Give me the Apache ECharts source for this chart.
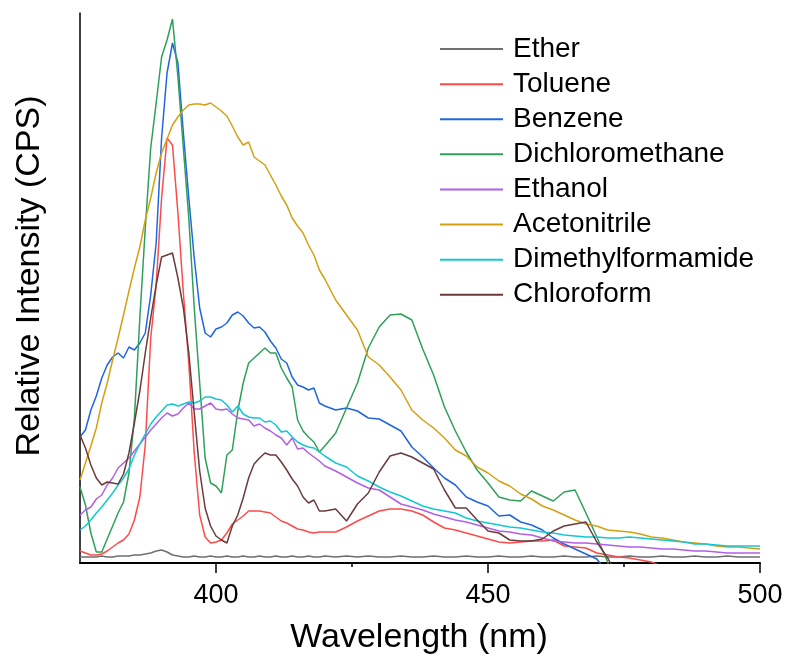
<!DOCTYPE html>
<html>
<head>
<meta charset="utf-8">
<script src="https://cdn.jsdelivr.net/npm/echarts@6/dist/echarts.min.js"></script>
<style>
html,body{margin:0;padding:0;background:#fff;}
#chart{width:786px;height:660px;}
</style>
</head>
<body>
<div id="chart"></div>
<script>
const wavelength = [
375,376,377,378,379,380,381,382,383,384,
385,386,387,388,389,390,391,392,393,394,
395,396,397,398,399,400,401,402,403,404,
405,406,407,408,409,410,411,412,413,414,
415,416,417,418,419,420,
422,424,426,428,430,432,434,436,438,440,
442,444,446,448,450,452,454,456,458,460,
462,464,466,468,470,472,474,476,478,480,
482,484,486,488,490,492,494,496,498,500
];
const ether = [
6,6,6,6,7,6,6,7,7,7,
8,8,9,10,12,13,11,8,7,6,
6,7,6,6,7,6,6,7,6,6,
7,6,6,7,6,6,7,6,6,7,
6,6,7,6,6,7,
6,7,6,7,6,6,7,6,6,7,
6,6,7,6,6,7,6,6,7,6,
6,7,6,6,7,6,6,7,6,6,
7,6,6,7,6,6,7,6,6,6
];
const toluene = [
12,10,8,8,9,12,16,20,23,29,
43,66,118,225,278,365,425,418,350,270,
200,110,48,26,20,21,23,30,39,43,
47,52,52,52,51,50,46,42,40,37,
34,33,31,30,31,31,
31,36,42,47,52,54,54,52,48,41,
35,33,30,27,24,21,20,21,22,22,
23,17,16,15,10,8,6,5,3,1,
-3,null,null,null,null,null,null,null,null,null
];
const benzene = [
126,133,153,167,185,198,206,210,205,216,
213,220,230,268,320,425,490,520,500,430,
365,305,255,230,226,234,236,240,248,251,
247,240,235,236,231,222,215,204,200,186,
178,176,173,175,160,157,
153,155,152,145,144,138,132,116,106,95,
85,78,66,61,57,47,48,41,38,33,
25,19,14,9,4,-10,null,null,null,null,
null,null,null,null,null,null,null,null,null,null
];
const dichloromethane = [
76,58,30,11,11,24,37,50,61,90,
145,245,335,415,460,506,523,544,486,415,
345,255,180,105,80,77,70,108,113,152,
180,200,205,210,215,210,210,195,185,176,
143,132,126,121,111,117,
130,155,180,215,236,248,249,243,214,188,
156,132,111,93,80,66,63,62,72,67,
62,71,73,50,26,1,-40,null,null,null,
null,null,null,null,null,null,null,null,null,null
];
const ethanol = [
48,53,56,64,68,78,85,95,100,105,
112,119,126,133,139,145,150,147,149,155,
160,154,154,157,160,154,153,154,149,145,
144,143,137,139,135,132,128,125,118,125,
114,115,110,106,102,97,
92,86,80,75,73,66,59,56,53,49,
46,43,41,38,35,32,31,29,28,25,
22,21,20,20,19,18,17,16,16,15,
14,14,13,12,12,11,10,10,10,10
];
const acetonitrile = [
83,100,117,135,160,180,203,225,248,272,
295,316,343,365,390,410,424,438,446,453,
458,459,459,458,460,456,452,447,437,426,
418,421,406,402,398,388,378,367,358,345,
337,330,318,308,293,284,
263,248,233,206,198,186,173,153,143,135,
125,113,107,96,90,82,77,69,64,57,
53,48,43,39,37,33,32,31,29,26,
25,23,21,20,19,17,16,16,15,14
];
const dimethylformamide = [
33,37,43,50,56,63,70,78,85,94,
108,119,129,139,146,152,158,159,157,159,
161,160,162,166,166,164,163,158,151,157,
149,146,145,145,141,142,138,131,132,126,
121,118,116,115,111,107,
100,96,87,82,76,71,67,62,57,54,
52,50,45,42,40,38,36,35,33,31,
30,28,27,26,26,25,25,26,25,24,
23,22,21,19,19,18,17,17,17,17
];
const chloroform = [
128,115,98,85,78,81,80,79,89,110,
140,172,210,245,278,306,308,310,285,255,
210,150,92,55,37,27,23,20,37,48,
65,85,99,105,110,108,108,101,93,84,
77,66,60,63,52,52,
54,42,59,70,91,107,110,106,100,94,
73,55,55,43,32,30,23,22,22,24,
32,37,39,41,21,5,-15,null,null,null,
null,null,null,null,null,null,null,null,null,null
];
const seriesNames = ['Ether','Toluene','Benzene','Dichloromethane','Ethanol','Acetonitrile','Dimethylformamide','Chloroform'];
const seriesData = [ether, toluene, benzene, dichloromethane, ethanol, acetonitrile, dimethylformamide, chloroform];
const seriesColors = ['#6f6f6f','#ff4a4a','#1f66e0','#2ea05a','#b25ee6','#d4a012','#12c8d2','#6b3b3b'];
const majorTicks = [400, 450, 500];
const minorTicks = [425, 475];
const FONT = "'Liberation Sans', Arial, sans-serif";

const chart = echarts.init(document.getElementById('chart'), null, {renderer: 'canvas'});
chart.setOption({
  backgroundColor: '#ffffff',
  animation: false,
  textStyle: {fontFamily: FONT},
  grid: {left: 80, right: 26, top: 13, bottom: 97, containLabel: false},
  xAxis: [{
    type: 'value', min: 375, max: 500,
    axisLine: {lineStyle: {color: '#000', width: 2}},
    axisTick: {customValues: majorTicks, length: 10, lineStyle: {color: '#000', width: 1.5}},
    axisLabel: {customValues: majorTicks, fontSize: 27, color: '#000', margin: 19, fontFamily: FONT},
    splitLine: {show: false}
  }, {
    type: 'value', min: 375, max: 500, position: 'bottom',
    axisLine: {show: false},
    axisTick: {customValues: minorTicks, length: 4, lineStyle: {color: '#000', width: 1.5}},
    axisLabel: {show: false},
    splitLine: {show: false}
  }],
  yAxis: {
    type: 'value', min: 0, max: 550,
    axisLine: {show: true, lineStyle: {color: '#000', width: 1.5}},
    axisTick: {show: false}, axisLabel: {show: false}, splitLine: {show: false}
  },
  legend: {
    orient: 'vertical', left: 435, top: 26.5,
    icon: 'rect', itemWidth: 63, itemHeight: 2, itemGap: 0,
    textStyle: {fontSize: 28, color: '#000', lineHeight: 35.1, fontFamily: FONT, padding: [0,0,0,5]},
    data: seriesNames
  },
  graphic: [{
    type: 'text', x: 419, y: 638,
    style: {text: 'Wavelength (nm)', font: "34px 'Liberation Sans', Arial, sans-serif", fill: '#000', align: 'center', verticalAlign: 'middle'}
  }, {
    type: 'text', x: 30, y: 276, rotation: Math.PI / 2,
    style: {text: 'Relative Intensity (CPS)', font: "34px 'Liberation Sans', Arial, sans-serif", fill: '#000', align: 'center', verticalAlign: 'middle'}
  }],
  series: seriesNames.map((name, i) => ({
    name: name, type: 'line', xAxisIndex: 0,
    data: wavelength.map((w, j) => [w, seriesData[i][j]]),
    showSymbol: false, symbol: 'none', clip: true, connectNulls: false,
    color: seriesColors[i],
    lineStyle: {width: 1.5, color: seriesColors[i]}
  }))
});
</script>
</body>
</html>
